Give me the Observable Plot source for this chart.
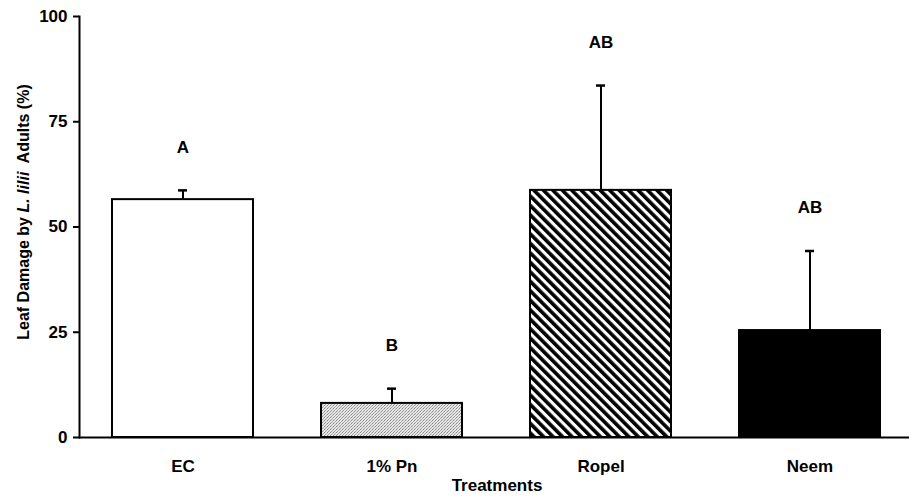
<!DOCTYPE html>
<html>
<head>
<meta charset="utf-8">
<script src="https://cdn.jsdelivr.net/npm/d3@7"></script>
<script src="https://cdn.jsdelivr.net/npm/@observablehq/plot@0.6"></script>
<style>
  html, body { margin: 0; padding: 0; background: #fff; }
  svg { display: block; }
</style>
</head>
<body>
<div id="chart"></div>
<script>
const treatments = ["EC", "1% Pn", "Ropel", "Neem"];
const means = [56.5, 8.1, 58.7, 25.4];
const errors = [2.2, 3.5, 24.9, 18.9];
const letters = ["A", "B", "AB", "AB"];
const yTicks = [0, 25, 50, 75, 100];

const data = treatments.map((t, i) => ({
  treatment: t, mean: means[i], top: means[i] + errors[i], letter: letters[i]
}));

const font = "'Liberation Sans', Arial, sans-serif";

const plot = Plot.plot({
  width: 909,
  height: 502,
  marginLeft: 79,
  marginRight: 0,
  marginTop: 16,
  marginBottom: 65,
  style: { fontFamily: font, fontSize: "17px", fontWeight: "bold", color: "#000", background: "#fff" },
  x: { domain: treatments, range: [79, 914], paddingInner: 0.325, paddingOuter: 0.16, label: null },
  y: { domain: [0, 100], label: null },
  color: { type: "ordinal", domain: treatments, range: ["white", "url(#stipple)", "url(#hatch)", "black"] },
  marks: [
    Plot.barY(data, { x: "treatment", y: "mean", fill: "treatment", stroke: "black", strokeWidth: 2 }),
    Plot.ruleX(data, { x: "treatment", y1: "mean", y2: "top", stroke: "black", strokeWidth: 2 }),
    Plot.tickY(data, { x: "treatment", y: "top", stroke: "black", strokeWidth: 2.5, insetLeft: 66, insetRight: 66 }),
    Plot.text(data, { x: "treatment", y: "top", text: "letter", dy: -43, fontSize: 17, fontWeight: "bold", fill: "black" }),
    Plot.axisY({ ticks: yTicks, tickSize: 6, tickPadding: 6, strokeWidth: 2, tickFormat: d => d, fontSize: 17, fontWeight: "bold", label: null }),
    Plot.axisX({ tickSize: 0, tickPadding: 22, fontSize: 17, fontWeight: "bold", label: null }),
    Plot.frame({ anchor: "left", stroke: "black", strokeWidth: 2 }),
    Plot.ruleY([0], { stroke: "black", strokeWidth: 2 })
  ]
});

const svg = d3.select(plot);
const defs = svg.insert("defs", ":first-child");
const st = defs.append("pattern").attr("id", "stipple")
  .attr("patternUnits", "userSpaceOnUse").attr("width", 3).attr("height", 3);
st.append("rect").attr("width", 3).attr("height", 3).attr("fill", "#e4e4e4");
st.append("rect").attr("x", 0).attr("y", 0).attr("width", 1).attr("height", 1).attr("fill", "#8a8a8a");
st.append("rect").attr("x", 2).attr("y", 1).attr("width", 1).attr("height", 1).attr("fill", "#b0b0b0");
st.append("rect").attr("x", 1).attr("y", 2).attr("width", 1).attr("height", 1).attr("fill", "#a0a0a0");
const ht = defs.append("pattern").attr("id", "hatch")
  .attr("patternUnits", "userSpaceOnUse").attr("width", 6.7).attr("height", 6.7)
  .attr("patternTransform", "rotate(-45)");
ht.append("rect").attr("width", 6.7).attr("height", 6.7).attr("fill", "white");
ht.append("rect").attr("width", 3.6).attr("height", 6.7).attr("fill", "black");

// Axis titles
const yt = svg.append("text")
  .attr("transform", "translate(29,212) rotate(-90)")
  .attr("text-anchor", "middle")
  .attr("font-family", font).attr("font-size", 16).attr("font-weight", "bold").attr("fill", "black");
yt.append("tspan").text("Leaf Damage by ");
yt.append("tspan").attr("font-style", "italic").text("L. lilii");
yt.append("tspan").text("\u00a0 Adults (%)");

svg.append("text")
  .attr("x", 497).attr("y", 491)
  .attr("text-anchor", "middle")
  .attr("font-family", font).attr("font-size", 17).attr("font-weight", "bold").attr("fill", "black")
  .text("Treatments");

document.getElementById("chart").appendChild(plot);
</script>
</body>
</html>
